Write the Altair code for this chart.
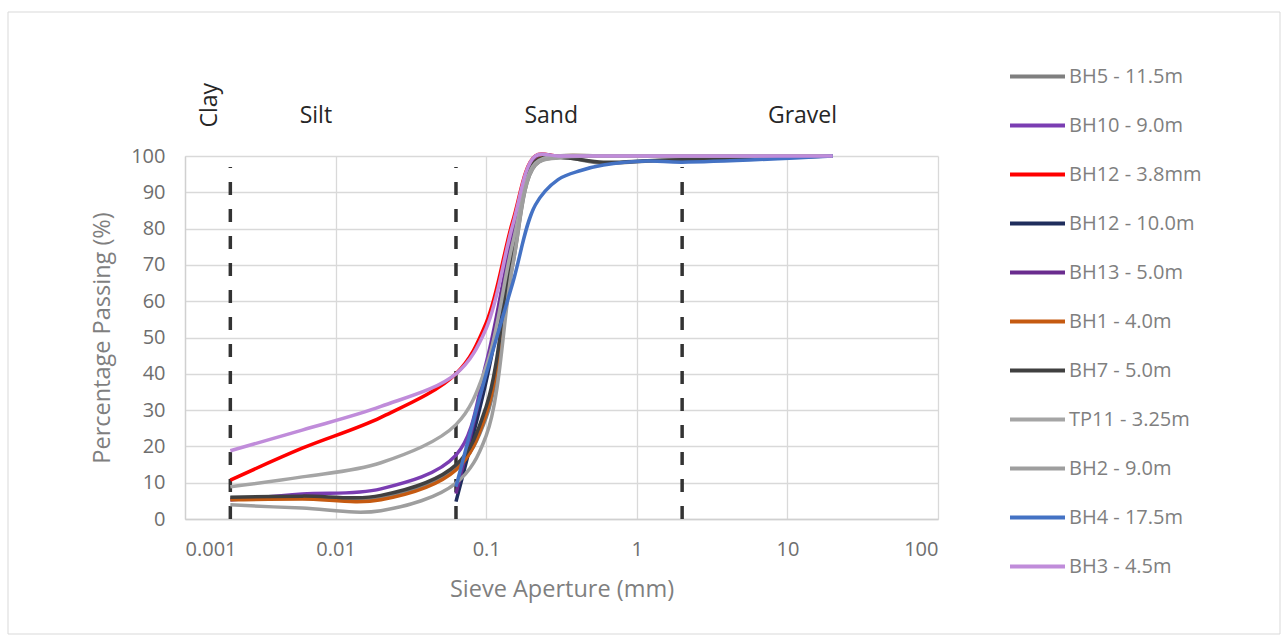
import altair as alt
import pandas as pd

# Sieve apertures (mm)
sizes_full = [0.002, 0.006, 0.02, 0.063, 0.1, 0.15, 0.212, 0.3, 0.6, 1.18, 2, 20]
sizes_sand = [0.063, 0.1, 0.15, 0.212, 0.3, 0.6, 1.18, 2, 20]
sizes_bh4 = [0.063, 0.1, 0.15, 0.212, 0.3, 0.425, 0.6, 1.18, 2, 20]

series_names = [
    "BH5 - 11.5m", "BH10 - 9.0m", "BH12 - 3.8mm", "BH12 - 10.0m", "BH13 - 5.0m",
    "BH1 - 4.0m", "BH7 - 5.0m", "TP11 - 3.25m", "BH2 - 9.0m", "BH4 - 17.5m", "BH3 - 4.5m",
]
series_colors = [
    "#7F7F7F", "#7A3DB2", "#FF0000", "#1F2D5C", "#6A2C8E",
    "#C55A11", "#404040", "#A5A5A5", "#9E9E9E", "#4472C4", "#C08CDA",
]

bh5 = [5.8, 6.0, 6.0, 14.0, 28, 70, 97.5, 99.6, 98.0, 98.6, 99.0, 100]
bh10 = [5.2, 6.9, 8.3, 17.6, 43, 78, 99.5, 100, 100, 100, 100, 100]
bh12_38 = [10.7, 19.5, 28, 40, 54, 82, 100, 100, 100, 100, 100, 100]
bh12_10 = [4.8, 38, 74, 99.5, 100, 100, 100, 100, 100]
bh13 = [7.0, 41, 77, 99.5, 100, 100, 100, 100, 100]
bh1 = [5.3, 5.5, 5.3, 13.5, 29, 72, 98.5, 100, 100, 100, 100, 100]
bh7 = [6.0, 6.3, 6.5, 14.9, 31, 74, 98.5, 99.6, 98.3, 98.7, 99.0, 100]
tp11 = [8.9, 11.6, 15.5, 26, 42, 76, 98, 100, 100, 100, 100, 100]
bh2 = [3.9, 3.0, 2.3, 9.9, 23, 70, 97.5, 99.5, 100, 100, 100, 100]
bh4 = [8.9, 40, 65, 86.5, 93.5, 96, 97.5, 98.6, 98.3, 100]
bh3 = [18.8, 24.5, 31, 40, 52.5, 81, 100, 100, 100, 100, 100, 100]

series_values = [bh5, bh10, bh12_38, bh12_10, bh13, bh1, bh7, tp11, bh2, bh4, bh3]
series_sizes = [sizes_full, sizes_full, sizes_full, sizes_sand, sizes_sand,
                sizes_full, sizes_full, sizes_full, sizes_full, sizes_bh4, sizes_full]

# Soil class boundaries and labels
boundaries = [0.002, 0.063, 2]
zone_names = ["Silt", "Sand", "Gravel"]
zone_x = [0.0074, 0.27, 12.6]
clay_name = ["Clay"]
clay_x = [0.00147]

rows = []
for name, xs, vals in zip(series_names, series_sizes, series_values):
    for x, v in zip(xs, vals):
        rows.append({"series": name, "size": x, "pct": v})
df = pd.DataFrame(rows)

FONT = "Open Sans"
GREY = "#7F7F7F"

xscale = alt.Scale(type="log", domain=[0.001, 100])
yscale = alt.Scale(domain=[0, 100])

color = alt.Color(
    "series:N",
    scale=alt.Scale(domain=series_names, range=series_colors),
    legend=alt.Legend(
        title=None,
        orient="none",
        legendX=823,
        legendY=-109,
        symbolType="stroke",
        symbolSize=3025,
        symbolStrokeWidth=4,
        labelFont=FONT,
        labelFontSize=20,
        labelColor=GREY,
        labelOffset=2,
        rowPadding=9,
    ),
)

xaxis = alt.Axis(
    values=[0.001, 0.01, 0.1, 1, 10, 100],
    format="~g",
    title="Sieve Aperture (mm)",
    grid=True,
    ticks=False,
    labelPadding=20,
    titlePadding=18,
    labelOverlap=False,
)
yaxis = alt.Axis(
    values=list(range(0, 101, 10)),
    title="Percentage Passing (%)",
    grid=True,
    ticks=False,
    labelPadding=20,
    titlePadding=16,
    labelOverlap=False,
)

layers = []
for name in series_names:
    layers.append(
        alt.Chart(df)
        .transform_filter(alt.datum.series == name)
        .mark_line(strokeWidth=3.5, interpolate="catmull-rom")
        .encode(
            x=alt.X("size:Q", scale=xscale, axis=xaxis),
            y=alt.Y("pct:Q", scale=yscale, axis=yaxis),
            color=color,
        )
    )

bdf = pd.DataFrame({"b": boundaries, "y0": [0] * 3, "y1": [97] * 3})
rules = alt.Chart(bdf).mark_rule(
    color="#333333", strokeWidth=3.5, strokeDash=[13, 14]
).encode(
    x=alt.X("b:Q", scale=xscale, axis=xaxis),
    y=alt.Y("y0:Q", scale=yscale, axis=yaxis),
    y2="y1:Q",
)

zdf = pd.DataFrame({"name": zone_names, "x": zone_x, "y": [111] * 3})
zones = alt.Chart(zdf).mark_text(
    font=FONT, fontSize=23, color="#262626", baseline="middle"
).encode(
    x=alt.X("x:Q", scale=xscale, axis=xaxis),
    y=alt.Y("y:Q", scale=yscale, axis=yaxis),
    text="name:N",
)

cdf = pd.DataFrame({"name": clay_name, "x": clay_x, "y": [114]})
clay = alt.Chart(cdf).mark_text(
    font=FONT, fontSize=23, color="#262626", baseline="middle", angle=270
).encode(
    x=alt.X("x:Q", scale=xscale, axis=xaxis),
    y=alt.Y("y:Q", scale=yscale, axis=yaxis),
    text="name:N",
)

frame = alt.Chart(pd.DataFrame({"a": [0]})).mark_rect(
    fill=None, stroke="#D9D9D9", strokeWidth=1
).encode(x=alt.value(-177), x2=alt.value(1095), y=alt.value(-144), y2=alt.value(478))

chart = (
    alt.layer(frame, rules, *layers, zones, clay)
    .properties(
        width=753,
        height=363,
        autosize=alt.AutoSizeParams(type="none"),
        padding={"left": 185, "top": 156, "right": 350, "bottom": 123},
        background="white",
    )
    .configure_view(stroke=None)
    .configure_axis(
        labelFont=FONT,
        titleFont=FONT,
        labelFontSize=20,
        titleFontSize=23.5,
        labelColor="#6E6E6E",
        titleColor=GREY,
        titleFontWeight="normal",
        gridColor="#D9D9D9",
        gridWidth=1.3,
        domainColor="#D0D0D0",
        domainWidth=1.3,
    )
)

chart.save("out.html", embed_options={"renderer": "svg", "actions": False})
